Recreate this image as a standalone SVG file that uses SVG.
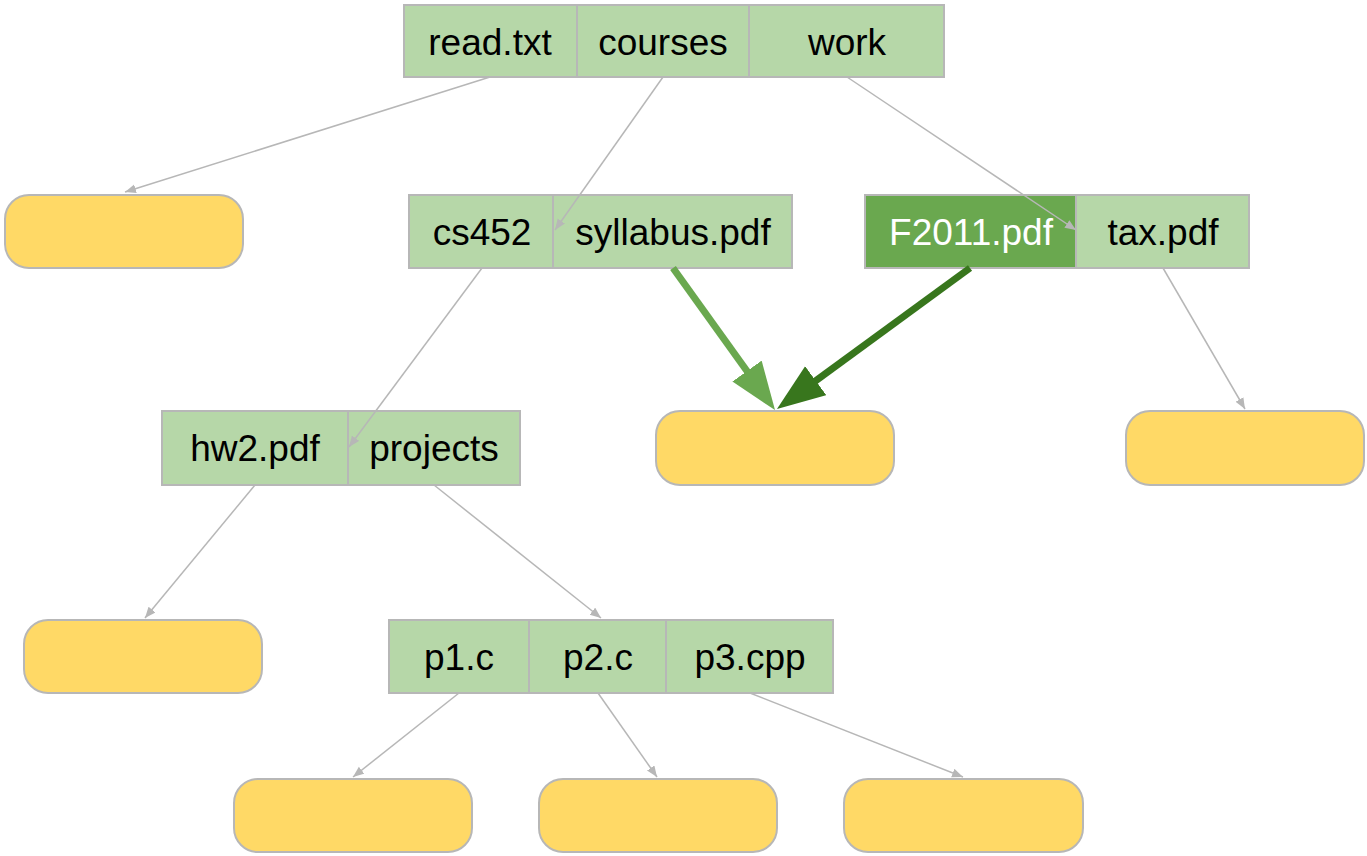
<svg xmlns="http://www.w3.org/2000/svg" width="1367" height="856" viewBox="0 0 1367 856">
  <style>
    .cell { fill: #b6d7a8; stroke: #b7b7b7; stroke-width: 2; }
    .cell-dark { fill: #6aa84f; stroke: #b7b7b7; stroke-width: 2; }
    .leaf { fill: #ffd966; stroke: #b7b7b7; stroke-width: 2; }
    .lbl { font-family: "Liberation Sans", Arial, sans-serif; font-size: 37px; fill: #000; text-anchor: middle; }
    .lbl-light { fill: #ffffff; }
    .ptr { stroke: #b7b7b7; stroke-width: 1.5; fill: none; marker-end: url(#small); }
    .link-light { stroke: #6aa84f; stroke-width: 7; fill: none; marker-end: url(#bigLight); }
    .link-dark { stroke: #38761d; stroke-width: 7; fill: none; marker-end: url(#bigDark); }
  </style>
  <defs>
    <marker id="small" markerUnits="userSpaceOnUse" markerWidth="12" markerHeight="10" refX="11" refY="4.5" orient="auto">
      <path d="M0,0 L11,4.5 L0,9 z" fill="#b7b7b7"/>
    </marker>
    <marker id="bigLight" markerUnits="userSpaceOnUse" markerWidth="50" markerHeight="38" refX="18" refY="18" orient="auto">
      <path d="M0,0 L48,18 L0,36 z" fill="#6aa84f"/>
    </marker>
    <marker id="bigDark" markerUnits="userSpaceOnUse" markerWidth="50" markerHeight="38" refX="18" refY="18" orient="auto">
      <path d="M0,0 L48,18 L0,36 z" fill="#38761d"/>
    </marker>
  </defs>

  <rect width="1367" height="856" fill="#ffffff"/>

  <!-- leaf nodes -->
  <g id="leaf-read"><rect class="leaf" x="5" y="195" width="238" height="73" rx="24"/></g>
  <g id="leaf-syllabus"><rect class="leaf" x="656" y="411" width="238" height="74" rx="24"/></g>
  <g id="leaf-tax"><rect class="leaf" x="1126" y="411" width="238" height="74" rx="24"/></g>
  <g id="leaf-hw2"><rect class="leaf" x="24" y="620" width="238" height="73" rx="24"/></g>
  <g id="leaf-p1"><rect class="leaf" x="234" y="779" width="238" height="73" rx="24"/></g>
  <g id="leaf-p2"><rect class="leaf" x="539" y="779" width="238" height="73" rx="24"/></g>
  <g id="leaf-p3"><rect class="leaf" x="844" y="779" width="239" height="73" rx="24"/></g>

  <!-- root directory -->
  <g id="dir-root">
    <rect class="cell" x="404" y="5" width="173" height="72"/>
    <rect class="cell" x="577" y="5" width="172" height="72"/>
    <rect class="cell" x="749" y="5" width="195" height="72"/>
    <text class="lbl" x="490" y="55">read.txt</text>
    <text class="lbl" x="663" y="55">courses</text>
    <text class="lbl" x="847" y="55">work</text>
  </g>

  <!-- courses directory -->
  <g id="dir-courses">
    <rect class="cell" x="409" y="195" width="144" height="73"/>
    <rect class="cell" x="553" y="195" width="239" height="73"/>
    <text class="lbl" x="482" y="245">cs452</text>
    <text class="lbl" x="673" y="245">syllabus.pdf</text>
  </g>

  <!-- work directory -->
  <g id="dir-work">
    <rect class="cell-dark" x="865" y="195" width="211" height="73"/>
    <rect class="cell" x="1076" y="195" width="173" height="73"/>
    <text class="lbl lbl-light" x="971" y="245">F2011.pdf</text>
    <text class="lbl" x="1163" y="245">tax.pdf</text>
  </g>

  <!-- cs452 directory -->
  <g id="dir-cs452">
    <rect class="cell" x="162" y="411" width="186" height="74"/>
    <rect class="cell" x="348" y="411" width="172" height="74"/>
    <text class="lbl" x="255" y="461">hw2.pdf</text>
    <text class="lbl" x="434" y="461">projects</text>
  </g>

  <!-- projects directory -->
  <g id="dir-projects">
    <rect class="cell" x="389" y="620" width="140" height="73"/>
    <rect class="cell" x="529" y="620" width="137" height="73"/>
    <rect class="cell" x="666" y="620" width="167" height="73"/>
    <text class="lbl" x="459" y="670">p1.c</text>
    <text class="lbl" x="598" y="670">p2.c</text>
    <text class="lbl" x="750" y="670">p3.cpp</text>
  </g>

  <!-- pointers between entries and their targets -->
  <g id="connectors">
    <line class="ptr" x1="490" y1="77" x2="125" y2="192"/>
    <line class="ptr" x1="663" y1="77" x2="555" y2="230"/>
    <line class="ptr" x1="847" y1="77" x2="1076" y2="230"/>
    <line class="ptr" x1="482" y1="268" x2="349" y2="447"/>
    <line class="ptr" x1="1163" y1="268" x2="1245" y2="409"/>
    <line class="ptr" x1="255" y1="485" x2="145" y2="618"/>
    <line class="ptr" x1="434" y1="485" x2="601" y2="618"/>
    <line class="ptr" x1="459" y1="693" x2="353" y2="777"/>
    <line class="ptr" x1="598" y1="693" x2="657" y2="777"/>
    <line class="ptr" x1="750" y1="693" x2="963" y2="777"/>
    <line class="link-light" x1="673" y1="268" x2="757.5" y2="385.7"/>
    <line class="link-dark" x1="970" y1="268" x2="801.2" y2="391.3"/>
  </g>
</svg>
